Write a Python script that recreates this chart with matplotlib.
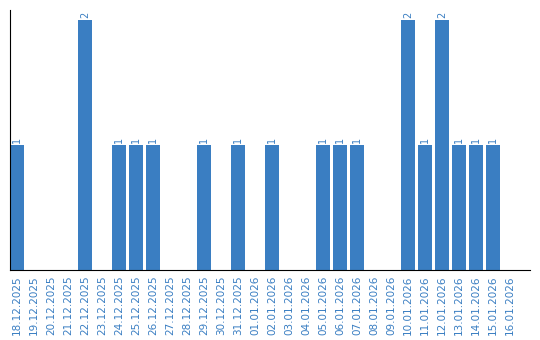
import matplotlib
matplotlib.use("Agg")
import matplotlib.pyplot as plt

dates = ["18.12.2025", "19.12.2025", "20.12.2025", "21.12.2025", "22.12.2025",
         "23.12.2025", "24.12.2025", "25.12.2025", "26.12.2025", "27.12.2025",
         "28.12.2025", "29.12.2025", "30.12.2025", "31.12.2025", "01.01.2026",
         "02.01.2026", "03.01.2026", "04.01.2026", "05.01.2026", "06.01.2026",
         "07.01.2026", "08.01.2026", "09.01.2026", "10.01.2026", "11.01.2026",
         "12.01.2026", "13.01.2026", "14.01.2026", "15.01.2026", "16.01.2026"]
counts = [1, 0, 0, 0, 2, 0, 1, 1, 1, 0, 0, 1, 0, 1, 0,
          1, 0, 0, 1, 1, 1, 0, 0, 2, 1, 2, 1, 1, 1, 0]

color = "#3a7ec2"
fig = plt.figure(figsize=(5.4, 3.4), dpi=100)
ax = fig.add_axes([10/540, 70/340, 520/540, 260/340])
x = list(range(len(dates)))
bw = 14/17
ax.bar(x, counts, width=bw, color=color)
for xi, v in zip(x, counts):
    if v > 0:
        ax.text(xi, v + 0.02, str(v), rotation=90, ha="center", va="bottom",
                color=color, fontsize=7)
ax.set_xlim(-bw/2, -bw/2 + 520/17)
ax.set_ylim(0, 2.08)
ax.set_xticks(x)
ax.set_xticklabels(dates, rotation=90, color=color, fontsize=7.5)
ax.tick_params(axis="x", length=0, pad=4)
ax.set_yticks([])
ax.spines["top"].set_visible(False)
ax.spines["right"].set_visible(False)
ax.spines["left"].set_color("black")
ax.spines["bottom"].set_color("black")
fig.savefig("out.png", dpi=100)
